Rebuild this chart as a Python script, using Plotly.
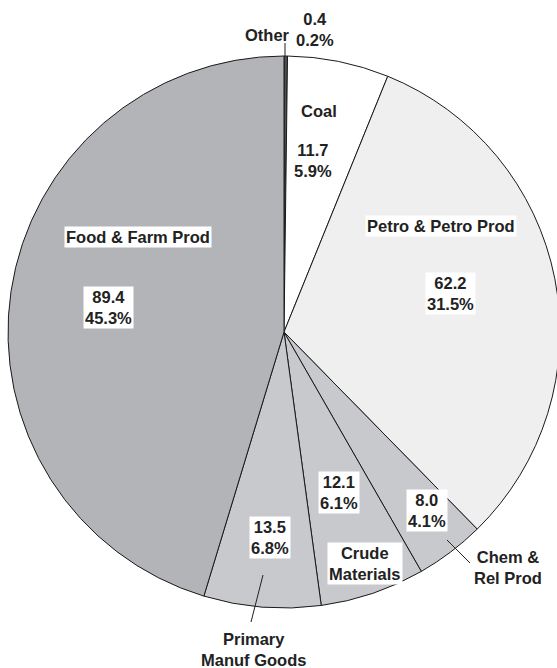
import plotly.graph_objects as go

# slices, clockwise from 12 o'clock
categories = ["Other", "Coal", "Petro & Petro Prod", "Chem &<br>Rel Prod",
              "Crude<br>Materials", "Primary<br>Manuf Goods", "Food & Farm Prod"]
values = [0.4, 11.7, 62.2, 8.0, 12.1, 13.5, 89.4]
colors = ["#505050", "#ffffff", "#efefef", "#c8c9cc", "#c8c9cc", "#c8c9cc", "#b3b4b8"]

# the original pie runs a few pixels past the right edge of the window,
# so the figure is a bit wider than the 557px window and the rest is clipped
W, H = 562, 668
CX, CY, R = 284, 332, 276

total = sum(values)
pct = [f"{v / total * 100:.1f}%" for v in values]


def px(x, y):
    return x / W, 1 - y / H


fig = go.Figure()
fig.add_trace(
    go.Pie(
        labels=categories,
        values=values,
        sort=False,
        direction="clockwise",
        rotation=0,
        marker={"colors": colors, "line": {"color": "#1a1a1a", "width": 1}},
        textinfo="none",
        hoverinfo="none",
        showlegend=False,
        domain={"x": [(CX - R) / W, (CX + R) / W], "y": [1 - (CY + R) / H, 1 - (CY - R) / H]},
    )
)

# label placement in pixels: (name x, name y, value x, value y, boxed)
placement = [
    (267, 35, 315, 30, False),
    (319, 111, 313, 160, True),
    (441, 226, 450, 293, True),
    (508, 567, 427, 511, True),
    (365, 563, 339, 492, True),
    (253, 649, 270, 537, True),
    (138, 237, 108, 307, True),
]

font = {"family": "Liberation Sans, Arial, sans-serif", "size": 16.5, "color": "#222222"}
for i, (nx, ny, vx, vy, boxed) in enumerate(placement):
    name_boxed = boxed and i not in (3, 5)
    x, y = px(nx, ny)
    fig.add_annotation(x=x, y=y, xref="paper", yref="paper", xanchor="center", yanchor="middle",
                       showarrow=False, text=f"<b>{categories[i]}</b>", font=font,
                       bgcolor="white" if name_boxed else "rgba(0,0,0,0)", borderpad=1)
    x, y = px(vx, vy)
    fig.add_annotation(x=x, y=y, xref="paper", yref="paper", xanchor="center", yanchor="middle",
                       showarrow=False, text=f"<b>{values[i]:.1f}<br>{pct[i]}</b>", font=font,
                       bgcolor="white" if boxed else "rgba(0,0,0,0)", borderpad=1)

# leader lines for the labels outside the pie
for (x0, y0, x1, y1) in [(447, 540, 470, 563), (263, 575, 251, 622), (285, 56, 285, 43)]:
    a, b = px(x0, y0)
    c, d = px(x1, y1)
    fig.add_shape(type="line", xref="paper", yref="paper", x0=a, y0=b, x1=c, y1=d,
                  line={"color": "#222222", "width": 1})

fig.update_layout(
    width=W,
    height=H,
    margin={"l": 0, "r": 0, "t": 0, "b": 0},
    paper_bgcolor="white",
    plot_bgcolor="white",
)
# drop the default 8px body margin and any scrollbars
fig.write_html("out.html", config={"displayModeBar": False},
               post_script="document.body.style.margin='0';document.body.style.overflow='hidden';")
